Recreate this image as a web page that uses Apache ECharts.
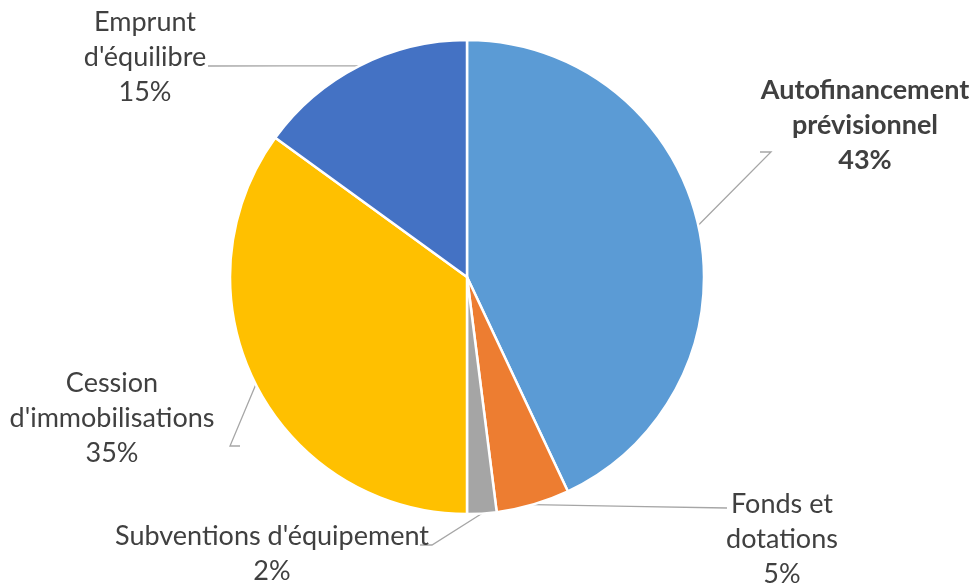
<!DOCTYPE html>
<html><head><meta charset="utf-8">
<script src="https://cdn.jsdelivr.net/npm/echarts@6/dist/echarts.min.js"></script>
<style>html,body{margin:0;padding:0;background:#fff}#c{width:974px;height:585px}</style>
</head><body><div id="c"></div>
<script>
const categories = ["Autofinancement prévisionnel", "Fonds et dotations", "Subventions d'équipement", "Cession d'immobilisations", "Emprunt d'équilibre"];
const labelTexts = ["Autofinancement\nprévisionnel", "Fonds et\ndotations", "Subventions d'équipement", "Cession\nd'immobilisations", "Emprunt\nd'équilibre"];
const values = [43, 5, 2, 35, 15];
const colors = ["#5B9BD5", "#ED7D31", "#A5A5A5", "#FFC000", "#4472C4"];

// label placement (layout only)
const labelPos = [
  {x: 865, y: 125, line: [[771,152],[760,152]]},
  {x: 782, y: 539, line: [[727,508]]},
  {x: 272, y: 554, line: [[432,545],[420,545]]},
  {x: 112, y: 418, line: [[230,446],[240,446]]},
  {x: 145, y: 57,  line: [[208,66]]}
];

const chart = echarts.init(document.getElementById('c'));
chart.setOption({
  animation: false,
  series: [{
    type: 'pie',
    center: [467, 277],
    radius: 237,
    startAngle: 90,
    clockwise: true,
    data: categories.map((n, i) => ({
      name: n, value: values[i],
      itemStyle: {color: colors[i]},
      label: i === 0 ? {fontWeight: 'bold'} : {}
    })),
    itemStyle: {borderColor: '#fff', borderWidth: 2.5},
    label: {
      show: true,
      formatter: p => labelTexts[p.dataIndex] + '\n' + Math.round(p.percent) + '%',
      fontFamily: 'Lato',
      fontSize: 27,
      lineHeight: 35,
      color: '#404040',
      align: 'center'
    },
    labelLine: {show: true, lineStyle: {color: '#A6A6A6', width: 1.3}, length: 10, length2: 10},
    labelLayout: function (p) {
      const lp = labelPos[p.dataIndex];
      const start = p.labelLinePoints ? p.labelLinePoints[0] : null;
      const res = {x: lp.x, y: lp.y, align: 'center', verticalAlign: 'middle'};
      if (start) {
        const pts = [start].concat(lp.line);
        if (pts.length === 2) pts.splice(1, 0, [(pts[0][0]+pts[1][0])/2, (pts[0][1]+pts[1][1])/2]);
        res.labelLinePoints = [pts[0], pts[1], pts[pts.length-1]];
      }
      return res;
    }
  }]
});
</script></body></html>
